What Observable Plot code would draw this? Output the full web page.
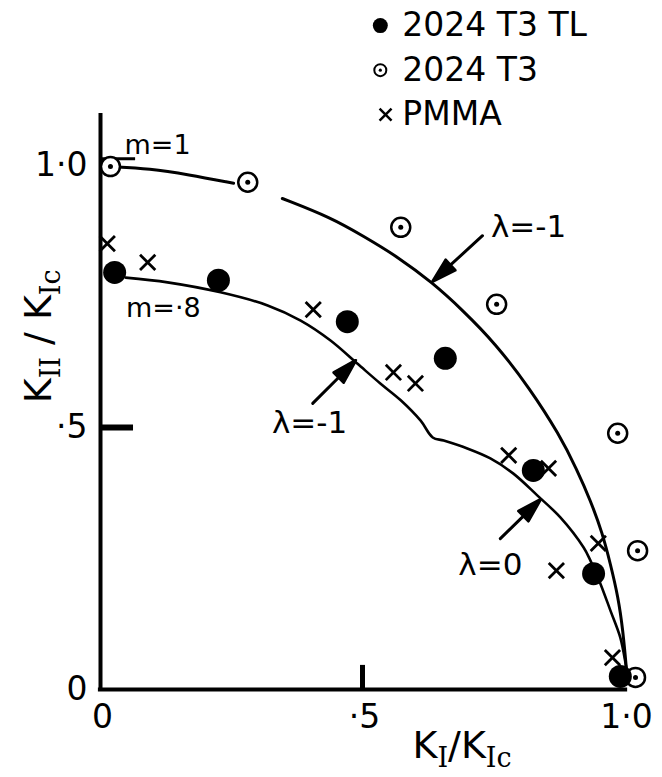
<!DOCTYPE html>
<html><head><meta charset="utf-8">
<script src="https://cdn.jsdelivr.net/npm/d3@7"></script>
<script src="https://cdn.jsdelivr.net/npm/@observablehq/plot@0.6"></script>
<style>html,body{margin:0;padding:0;background:#fff;}</style>
</head><body><div id="chart"></div>
<script>
// ---------- data ----------
// 2024 T3 TL (filled circles)
const tlX = [0.027, 0.225, 0.471, 0.658, 0.826, 0.941, 0.992];
const tlY = [0.796, 0.781, 0.702, 0.632, 0.418, 0.221, 0.025];
// 2024 T3 (dotted open circles)
const t3X = [0.019, 0.281, 0.573, 0.756, 0.987, 1.025, 1.021];
const t3Y = [0.998, 0.968, 0.882, 0.735, 0.489, 0.265, 0.023];
// PMMA (crosses)
const pmmaX = [0.013, 0.090, 0.406, 0.559, 0.601, 0.779, 0.855, 0.870, 0.950, 0.977];
const pmmaY = [0.851, 0.815, 0.725, 0.605, 0.584, 0.447, 0.422, 0.227, 0.279, 0.061];
// outer curve (m = 1), drawn in two pieces
const outerX = [0.019, 0.095, 0.166, 0.254, 0.347, 0.439, 0.502, 0.567, 0.634, 0.690, 0.754, 0.819, 0.876, 0.909, 0.935, 0.958, 0.973, 0.988, 0.997, 1.004, 1.006];
const outerY = [0.998, 0.994, 0.983, 0.966, 0.937, 0.901, 0.865, 0.826, 0.776, 0.725, 0.660, 0.575, 0.486, 0.420, 0.361, 0.298, 0.240, 0.176, 0.113, 0.036, 0.011];
const outerPiece = [1, 1, 1, 1, 2, 2, 2, 2, 2, 2, 2, 2, 2, 2, 2, 2, 2, 2, 2, 2, 2];
// inner curve (m = 0.8)
const innerX = [0.048, 0.128, 0.229, 0.319, 0.382, 0.439, 0.490, 0.534, 0.573, 0.611, 0.634, 0.655, 0.700, 0.744, 0.788, 0.834, 0.878, 0.922, 0.935, 0.954, 0.973, 0.992, 1.002, 1.006];
const innerY = [0.786, 0.777, 0.758, 0.733, 0.704, 0.666, 0.622, 0.584, 0.552, 0.513, 0.481, 0.475, 0.460, 0.441, 0.412, 0.370, 0.328, 0.271, 0.246, 0.202, 0.151, 0.099, 0.050, 0.023];
// tick labels
const xTicks = [0, 0.5, 1.0];
const xTickLabels = ["0", "·5", "1·0"];
const yTicks = [0, 0.5, 1.0];
const yTickLabels = ["0", "·5", "1·0"];
// annotations
const annTexts = ["λ=-1", "λ=-1", "λ=0"];
const annX = [0.817, 0.399, 0.744];
const annY = [0.882, 0.508, 0.237];
const mTexts = ["m=1", "m=·8"];
const mX = [0.109, 0.120];
const mY = [1.038, 0.727];
// arrows: tail -> tip
const arrTailX = [0.729, 0.405, 0.763];
const arrTailY = [0.866, 0.546, 0.288];
const arrTipX = [0.634, 0.487, 0.840];
const arrTipY = [0.779, 0.628, 0.363];
// legend
const legendLabels = ["2024 T3 TL", "2024 T3", "PMMA"];
const xLabel = "KI/KIc";
const yLabel = "KII/KIc";

// ---------- layout ----------
const W = 662, H = 777, ML = 100, MR = 38, MT = 165, MB = 88;
const sx = (W - ML - MR), sy = (H - MT - MB);
const FONT = "'DejaVu Sans', 'Liberation Sans', sans-serif";

const tl = tlX.map((x, i) => ({x, y: tlY[i]}));
const t3 = t3X.map((x, i) => ({x, y: t3Y[i]}));
const pm = pmmaX.map((x, i) => ({x, y: pmmaY[i]}));
const outer = outerX.map((x, i) => ({x, y: outerY[i], piece: outerPiece[i]}));
const inner = innerX.map((x, i) => ({x, y: innerY[i]}));
const ann = annTexts.map((t, i) => ({t, x: annX[i], y: annY[i]}));
const mAnn = mTexts.map((t, i) => ({t, x: mX[i], y: mY[i]}));
const arrows = arrTailX.map((x, i) => {
  const dxp = (arrTipX[i] - x) * sx, dyp = -(arrTipY[i] - arrTailY[i]) * sy;
  return {x, y: arrTailY[i], len: Math.hypot(dxp, dyp), rot: Math.atan2(dxp, -dyp) * 180 / Math.PI};
});
const legY0 = 1.267, legStep = 0.085, legSymX = 0.534, legTextX = 0.576;
const legend = legendLabels.map((t, i) => ({t, y: legY0 - i * legStep}));

const arrowShape = {
  draw(ctx, l) {
    const head = 24, wing = 7;
    ctx.moveTo(0, 0);
    ctx.lineTo(0, -l + head - 2);
    ctx.moveTo(0, -l);
    ctx.lineTo(-wing, -l + head);
    ctx.lineTo(wing, -l + head);
    ctx.closePath();
  }
};

const plot = Plot.plot({
  width: W, height: H,
  marginLeft: ML, marginRight: MR, marginTop: MT, marginBottom: MB,
  x: {domain: [0, 1], axis: null},
  y: {domain: [0, 1], axis: null},
  length: {type: "identity"},
  style: {fontFamily: FONT, background: "white", color: "black"},
  marks: [
    // axes
    Plot.ruleX([0], {y1: -0.004, y2: 1.099, stroke: "black", strokeWidth: 4}),
    Plot.ruleY([0], {x1: -0.004, x2: 1.006, stroke: "black", strokeWidth: 4}),
    Plot.ruleY([0.5], {x1: 0, x2: 0.063, stroke: "black", strokeWidth: 6}),
    Plot.ruleX([0.5], {y1: 0, y2: 0.046, stroke: "black", strokeWidth: 5}),
    Plot.ruleY([1.013], {x1: 0, x2: 0.067, stroke: "black", strokeWidth: 3}),
    Plot.text(yTicks, {x: 0, y: d => d, text: (d, i) => yTickLabels[i], textAnchor: "end", dx: -13, fontSize: 33}),
    Plot.text(xTicks, {x: d => d, y: 0, text: (d, i) => xTickLabels[i], dy: 28, dx: 2, fontSize: 33}),
    // curves
    Plot.line(outer, {x: "x", y: "y", z: "piece", curve: "basis", stroke: "black", strokeWidth: 3}),
    Plot.line(inner, {x: "x", y: "y", curve: "catmull-rom", stroke: "black", strokeWidth: 2.6}),
    // data
    Plot.dot(t3, {x: "x", y: "y", r: 9.5, stroke: "black", strokeWidth: 2.5, fill: "white"}),
    Plot.dot(t3, {x: "x", y: "y", r: 2.5, fill: "black"}),
    Plot.dot(tl, {x: "x", y: "y", r: 11.5, fill: "black"}),
    Plot.dot(pm, {x: "x", y: "y", symbol: "times", r: 7, stroke: "black", strokeWidth: 2.8}),
    // arrows and labels
    Plot.vector(arrows, {x: "x", y: "y", length: "len", rotate: "rot", anchor: "start", shape: arrowShape, stroke: "black", fill: "black", strokeWidth: 3}),
    Plot.text(ann, {x: "x", y: "y", text: "t", fontSize: 31}),
    Plot.text(mAnn, {x: "x", y: "y", text: "t", fontSize: 27}),
    // axis titles
    Plot.text([xLabel], {x: 0.69, y: -0.107, text: d => d, fontSize: 38}),
    Plot.text([yLabel], {x: -0.118, y: 0.674, text: d => d, rotate: -90, fontSize: 38}),
    // legend
    Plot.dot(legend.slice(0, 1), {x: legSymX, y: "y", r: 7.5, fill: "black"}),
    Plot.dot(legend.slice(1, 2), {x: legSymX, y: "y", r: 6, stroke: "black", strokeWidth: 2}),
    Plot.dot(legend.slice(1, 2), {x: legSymX, y: "y", r: 1.6, fill: "black"}),
    Plot.dot(legend.slice(2, 3), {x: legSymX + 0.01, y: "y", symbol: "times", r: 5.5, stroke: "black", strokeWidth: 2.5}),
    Plot.text(legend, {x: legTextX, y: "y", text: "t", textAnchor: "start", fontSize: 33})
  ]
});

// subscripts in axis titles
function subscriptify(root, str, parts) {
  d3.select(root).selectAll("text").filter(function () { return this.textContent === str; }).each(function () {
    const t = d3.select(this);
    t.selectAll("*").remove();
    t.text(null);
    let shifted = false;
    parts.forEach(([s, sub]) => {
      const ts = t.append("tspan").text(s);
      if (sub && !shifted) { ts.attr("dy", 9); shifted = true; }
      else if (!sub && shifted) { ts.attr("dy", -9); shifted = false; }
      if (sub) ts.attr("font-size", 27).attr("font-family", "'DejaVu Serif', serif");
    });
  });
}
subscriptify(plot, xLabel, [["K", 0], ["I", 1], ["/", 0], ["K", 0], ["Ic", 1]]);
subscriptify(plot, yLabel, [["K", 0], ["II", 1], [" / ", 0], ["K", 0], ["Ic", 1]]);

document.getElementById("chart").appendChild(plot);
</script>
</body></html>
